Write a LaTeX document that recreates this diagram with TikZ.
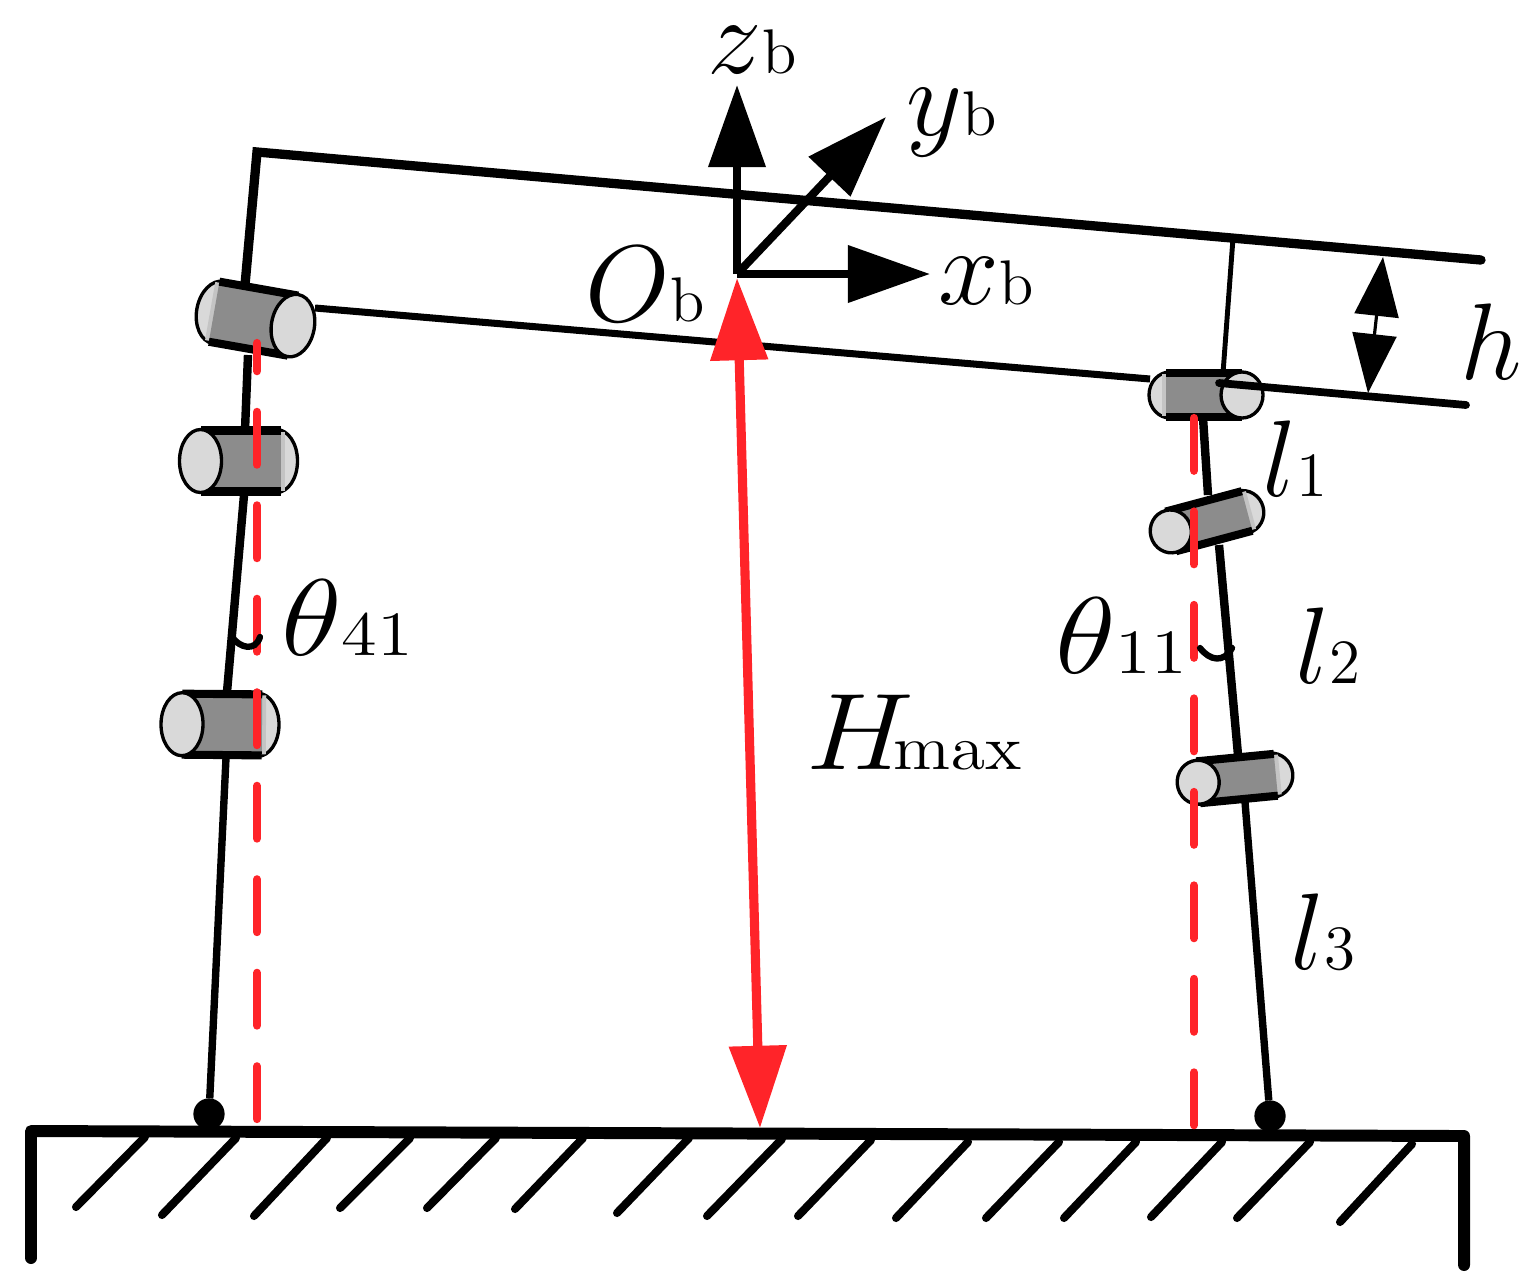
\documentclass[tikz,border=0pt]{standalone}
\usepackage{amsmath}
\usetikzlibrary{arrows.meta}
\DeclareMathSizes{24.88}{24.88}{14.4}{12}
\definecolor{bodygray}{HTML}{8C8C8C}
\definecolor{capgray}{HTML}{D9D9D9}
\definecolor{stripgray}{HTML}{C4C4C4}
\definecolor{redline}{HTML}{FF2429}
\tikzstyle{frameline} = [line width=2.65pt, line cap=round, black]
\tikzstyle{beamline} = [line width=2pt, black]
\tikzstyle{legline} = [line width=2.4pt, black]
\tikzstyle{hatchline} = [line width=2.3pt, line cap=round, black]
\tikzstyle{groundline} = [line width=3.4pt, line join=round, line cap=round, black]
\tikzstyle{dashline} = [line width=2.35pt, line cap=round, redline, dash pattern=on 15pt off 11.6pt]
\tikzstyle{anglearc} = [line width=1.8pt, line cap=round, black]
\tikzstyle{caprim} = [line width=0.95pt, draw=black, fill=capgray]
\tikzstyle{sidebar} = [line width=2.3pt, black]
\tikzstyle{axisarrow} = [line width=2.3pt, black, -{Triangle[length=23.4pt,width=15.9pt]}]
\tikzstyle{heightarrow} = [line width=2.6pt, redline, {Triangle[length=23.4pt,width=15.9pt]}-{Triangle[length=23.4pt,width=15.9pt]}]
\tikzstyle{gaparrow} = [line width=0.9pt, black, {Triangle[length=16.8pt,width=12.5pt]}-{Triangle[length=16.8pt,width=12.5pt]}]
\tikzstyle{footpoint} = [circle, fill=black, draw=black, inner sep=0pt, minimum size=8.5pt]
\tikzstyle{symlabel} = [inner sep=0pt, scale=1.246, font=\fontsize{24.88}{30}\selectfont]
% subscript that sits on the baseline
\newcommand{\lowsub}[1]{{\scriptstyle #1}}
% x, y, rotation, side of the full cap, length, cap radii
\newcommand{\jointcyl}[7]{
    \begin{scope}[shift={(#1,#2)}, rotate=#3, xscale=#4]
        \draw [caprim] ({-#5/2},0) ellipse (#6 and #7);
        \fill [stripgray] ({-#5/2-8},{-#7+2}) rectangle ({-#5/2-3},{#7-2});
        \fill [bodygray] ({-#5/2-4},{-#7+2}) rectangle ({#5/2},{#7-2});
        \draw [sidebar] ({-#5/2-4},{-#7+1}) -- ({#5/2},{-#7+1});
        \draw [sidebar] ({-#5/2-4},{#7-1}) -- ({#5/2},{#7-1});
        \draw [caprim] ({#5/2},0) ellipse (#6 and #7);
    \end{scope}
}

\begin{document}
\begin{tikzpicture} [x=0.1mm, y=-0.1mm]
    \useasboundingbox (0,0) rectangle (1538,1286);

    % ground
    \draw [groundline] (31,1258) -- (31,1131) -- (1464,1136) -- (1464,1265);
    \foreach \xa/\ya/\xb/\yb in {145/1137/76/1207, 236/1138/162/1215, 327/1138/254/1216, 410/1138/340/1208,
        496/1138/427/1208, 583/1138/515/1209, 689/1138/617/1213, 782/1139/707/1216, 871/1140/798/1216,
        968/1142/896/1218, 1059/1142/986/1218, 1136/1142/1064/1218, 1222/1142/1151/1217, 1310/1142/1237/1218,
        1412/1144/1340/1222}
        \draw [hatchline] (\xa,\ya) -- (\xb,\yb);

    % body frame
    \coordinate (cornerA) at (257,152);
    \coordinate (beamEnd) at (1481,260);
    \coordinate (lowerEnd) at (1466,405);
    \coordinate (postTop) at (1233,238);
    \draw [frameline, line join=miter] (245,285) -- (cornerA) -- (beamEnd);
    \draw [beamline] (315,308) -- (1150,379);
    \draw [line width=1.4pt] (postTop) -- (1223,373);

    % legs
    \node (footL) [footpoint] at (209,1114) {};
    \node (footR) [footpoint] at (1270,1116) {};
    \draw [legline] (248,355) -- (245,430);
    \draw [legline] (244,495) -- (227,692);
    \draw [legline, line width=2.1pt] (226,758) -- (footL);
    \draw [legline] (1203,418) -- (1208,495);
    \draw [legline] (1219,545) -- (1238,755);
    \draw [legline, line width=2.1pt] (1245,802) -- (footR);

    % joints
    \jointcyl{255.5}{319}{-10}{1}{76}{21.5}{31.5}
    \jointcyl{238.5}{461}{0}{-1}{76}{21}{31.5}
    \jointcyl{220}{724.5}{-0.5}{-1}{76}{21}{31.5}
    \jointcyl{1206}{395}{0}{1}{72}{21}{23}
    \jointcyl{1207}{521.7}{15}{-1}{75}{20.5}{21.5}
    \jointcyl{1235}{778.7}{5.5}{-1}{74}{21}{22}

    \draw [frameline, line width=2.2pt] (1219,383) -- (lowerEnd);

    % plumb lines
    \draw [dashline, dash phase=7pt] (257,343) -- (257,1127);
    \draw [dashline] (1194,418) -- (1194,1133);

    % knee angles
    \draw [anglearc] (232,637) .. controls (240,648) and (255,652) .. (260,637);
    \draw [anglearc] (1200,648) .. controls (1210,661) and (1224,663) .. (1232,648);

    % arrows
    \coordinate (origin) at (737,274);
    \coordinate (zTip) at (737,85);
    \coordinate (xTip) at (930,274);
    \coordinate (yTip) at (886,117);
    \draw [heightarrow] (737,278) -- (760,1128);
    \draw [axisarrow] (origin) -- (zTip);
    \draw [axisarrow] (origin) -- (xTip);
    \draw [axisarrow] (origin) -- (yTip);
    \draw [gaparrow] (1383,257) -- (1368,393);

    % labels
    \node (zLabel) [symlabel] at (752,50) {$z\lowsub{\mathrm{b}}$};
    \node (yLabel) [symlabel] at (952,123) {$y\lowsub{\mathrm{b}}$};
    \node (xLabel) [symlabel] at (986,281) {$x\lowsub{\mathrm{b}}$};
    \node (oLabel) [symlabel] at (645,284) {$O\lowsub{\mathrm{b}}$};
    \node (hLabel) [symlabel] at (1491,342) {$h$};
    \node (l1Label) [symlabel] at (1295,459) {$l\lowsub{1}$};
    \node (l2Label) [symlabel] at (1328,646) {$l\lowsub{2}$};
    \node (l3Label) [symlabel] at (1323,932) {$l\lowsub{3}$};
    \node (t41Label) [symlabel, xscale=1.15] at (347,618) {$\theta\lowsub{41}$};
    \node (t11Label) [symlabel, xscale=1.15] at (1121,636) {$\theta\lowsub{11}$};
    \node (hmaxLabel) [symlabel, xscale=1.11] at (914,732) {$H\!\lowsub{\mathrm{max}}$};

\end{tikzpicture}
\end{document}
